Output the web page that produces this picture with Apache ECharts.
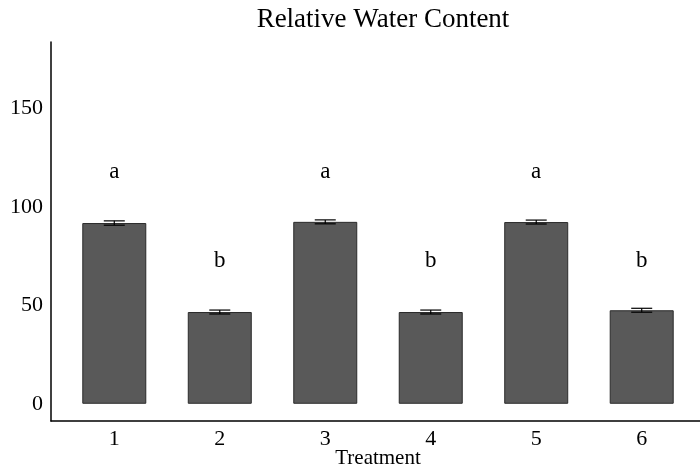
<!DOCTYPE html>
<html><head><meta charset="utf-8">
<script src="https://cdn.jsdelivr.net/npm/echarts@6/dist/echarts.min.js"></script>
<style>html,body{margin:0;padding:0;background:#fff}#c{width:700px;height:469px}</style>
</head><body><div id="c"></div>
<script>
const categories = [1, 2, 3, 4, 5, 6];
const means = [91.8, 46.6, 92.4, 46.6, 92.3, 47.5];
const errors = [1.1, 1.0, 1.0, 1.0, 1.0, 1.0];
const letters = ['a', 'b', 'a', 'b', 'a', 'b'];
const letterY = [117.5, 72.5, 117.5, 72.5, 117.5, 72.5];
const yTicks = [0, 50, 100, 150];

const FONT = "'Liberation Serif', 'Times New Roman', serif";
const chart = echarts.init(document.getElementById('c'), null, {renderer: 'canvas'});
chart.setOption({
  animation: false,
  title: {
    text: 'Relative Water Content', left: 378, top: 1, textAlign: 'center',
    textStyle: {fontFamily: FONT, fontSize: 27, fontWeight: 'normal', color: '#000'}
  },
  grid: {left: 51, top: 42, width: 654, height: 379, containLabel: false, outerBoundsMode: 'none'},
  xAxis: {
    type: 'value', min: 0.4, max: 6.6,
    name: 'Treatment', nameLocation: 'middle', nameGap: 37, nameMoveOverlap: false,
    nameTextStyle: {fontFamily: FONT, fontSize: 21, color: '#000', verticalAlign: 'middle'},
    axisLine: {show: true, onZero: false, lineStyle: {color: '#000', width: 1.5}},
    axisTick: {show: false},
    splitLine: {show: false},
    axisLabel: {customValues: categories, margin: 7, fontFamily: FONT, fontSize: 22, color: '#000'}
  },
  yAxis: {
    type: 'value', min: -8.75, max: 183.75,
    axisLine: {show: true, onZero: false, lineStyle: {color: '#000', width: 1.5}},
    axisTick: {show: false},
    splitLine: {show: false},
    axisLabel: {customValues: yTicks, margin: 8, fontFamily: FONT, fontSize: 22, color: '#000'}
  },
  series: [
    {
      type: 'bar', barWidth: 64,
      data: categories.map((c, i) => [c, means[i]]),
      itemStyle: {color: '#595959', borderColor: '#2b2b2b', borderWidth: 1}
    },
    {
      type: 'custom',
      data: categories.map((c, i) => [c, means[i] - errors[i], means[i] + errors[i]]),
      renderItem: function (params, api) {
        const x = api.value(0);
        const lo = api.coord([x, api.value(1)]);
        const hi = api.coord([x, api.value(2)]);
        const hw = 10.5;
        const st = {stroke: '#000', lineWidth: 1.2};
        return {type: 'group', children: [
          {type: 'line', shape: {x1: lo[0], y1: lo[1], x2: hi[0], y2: hi[1]}, style: st},
          {type: 'line', shape: {x1: lo[0] - hw, y1: lo[1], x2: lo[0] + hw, y2: lo[1]}, style: st},
          {type: 'line', shape: {x1: hi[0] - hw, y1: hi[1], x2: hi[0] + hw, y2: hi[1]}, style: st}
        ]};
      },
      z: 5
    },
    {
      type: 'scatter', symbolSize: 0,
      itemStyle: {opacity: 1},
      data: categories.map((c, i) => ({value: [c, letterY[i]], name: letters[i]})),
      label: {show: true, position: 'inside', formatter: p => p.name, opacity: 1,
        fontFamily: FONT, fontSize: 23, color: '#000'}
    }
  ]
});
</script></body></html>
